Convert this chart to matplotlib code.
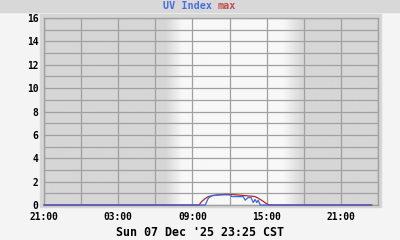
import numpy as np
import pandas as pd
import matplotlib
matplotlib.use("Agg")
from matplotlib import pyplot as plt
import matplotlib.dates as mdates
from matplotlib.colors import LinearSegmentedColormap
from matplotlib.patches import Rectangle

# UV index readings
uv_times = ["2025-12-06 21:00", "2025-12-07 10:02", "2025-12-07 10:17", "2025-12-07 10:34",
            "2025-12-07 11:14", "2025-12-07 12:03", "2025-12-07 12:11", "2025-12-07 13:06",
            "2025-12-07 13:16", "2025-12-07 13:30", "2025-12-07 13:45", "2025-12-07 13:55",
            "2025-12-07 14:04", "2025-12-07 14:12", "2025-12-07 14:19", "2025-12-07 14:29",
            "2025-12-07 23:25"]
uv_values = [0.0, 0.0, 0.58, 0.81,
             0.87, 0.87, 0.72, 0.72,
             0.41, 0.64, 0.62, 0.21,
             0.47, 0.21, 0.41, 0.0,
             0.0]

# UV index max
max_times = ["2025-12-06 21:00", "2025-12-07 09:32", "2025-12-07 09:45", "2025-12-07 10:02",
             "2025-12-07 10:17", "2025-12-07 10:41", "2025-12-07 11:06", "2025-12-07 11:40",
             "2025-12-07 12:12", "2025-12-07 12:51", "2025-12-07 13:30", "2025-12-07 14:04",
             "2025-12-07 14:19", "2025-12-07 14:38", "2025-12-07 14:53", "2025-12-07 15:07",
             "2025-12-07 15:27", "2025-12-07 23:30"]
max_values = [0.0, 0.0, 0.3, 0.55,
              0.72, 0.81, 0.87, 0.92,
              0.9, 0.84, 0.78, 0.72,
              0.58, 0.38, 0.19, 0.04,
              0.0, 0.0]

x_start = "2025-12-06 21:00"
x_end = "2025-12-08 00:00"
x_ticks = ["2025-12-06 21:00", "2025-12-07 03:00", "2025-12-07 09:00",
           "2025-12-07 15:00", "2025-12-07 21:00"]
x_labels = ["21:00", "03:00", "09:00", "15:00", "21:00"]
y_ticks = list(range(0, 17, 2))

# day / night background: 0 = night, 1 = day
shade_times = ["2025-12-06 21:00", "2025-12-07 06:50", "2025-12-07 08:10",
               "2025-12-07 16:20", "2025-12-07 17:57", "2025-12-08 00:00"]
shade_level = [0, 0, 1, 1, 0, 0]

mono = "DejaVu Sans Mono"
grid_col = "#a0a0a0"

fig = plt.figure(figsize=(4, 2.4), dpi=100, facecolor="#f4f4f4")
fig.patches.append(Rectangle((0, 0.95), 1, 0.05, transform=fig.transFigure,
                             color="#d8d8d8", zorder=-2))
fig.patches.append(Rectangle((0.1, 0.1375), 0.8525, 0.804, transform=fig.transFigure,
                             color="#d6d6d6", zorder=-2))

ax = fig.add_axes([0.11, 0.1458, 0.835, 0.7792])

x0 = mdates.date2num(pd.Timestamp(x_start))
x1 = mdates.date2num(pd.Timestamp(x_end))
t = np.linspace(x0, x1, 800)
level = np.interp(t, mdates.date2num(pd.to_datetime(shade_times)), shade_level)
cmap = LinearSegmentedColormap.from_list("daynight", ["#d6d6d6", "#f8f8f8"])
ax.imshow(level[None, :], cmap=cmap, vmin=0, vmax=1, extent=[x0, x1, 0, 16],
          aspect="auto", interpolation="bilinear", zorder=0)

ax.plot(pd.to_datetime(max_times), max_values, color="#b02828", lw=0.9,
        clip_on=False, zorder=3)
ax.plot(pd.to_datetime(uv_times), uv_values, color="#3a66e0", lw=0.9,
        clip_on=False, zorder=4)

ax.set_xlim(x0, x1)
ax.set_ylim(0, 16)
ax.xaxis.set_minor_locator(mdates.HourLocator(byhour=range(0, 24, 3)))
ax.set_xticks(mdates.date2num(pd.to_datetime(x_ticks)))
ax.set_xticklabels(x_labels)
ax.set_yticks(y_ticks)
ax.set_yticks(range(0, 17), minor=True)
ax.grid(True, which="both", color=grid_col, lw=0.9)
ax.tick_params(which="both", length=0)
ax.tick_params(axis="x", pad=5)
ax.tick_params(axis="y", pad=4)
for lab in ax.get_xticklabels() + ax.get_yticklabels():
    lab.set_fontfamily(mono)
    lab.set_fontweight("bold")
    lab.set_fontsize(6.9)
for s in ax.spines.values():
    s.set_color(grid_col)
    s.set_linewidth(1.0)

fig.text(163 / 400, 0.973, "UV Index", color="#4a6ee0", fontfamily=mono,
         fontweight="bold", fontsize=7.3, ha="left", va="center")
fig.text(218 / 400, 0.973, "max", color="#c05050", fontfamily=mono,
         fontweight="bold", fontsize=7.3, ha="left", va="center")
fig.text(0.5, 0.033, "Sun 07 Dec '25 23:25 CST", fontfamily=mono,
         fontweight="bold", fontsize=8.4, ha="center", va="center")

fig.savefig("out.png", dpi=100, facecolor=fig.get_facecolor())
